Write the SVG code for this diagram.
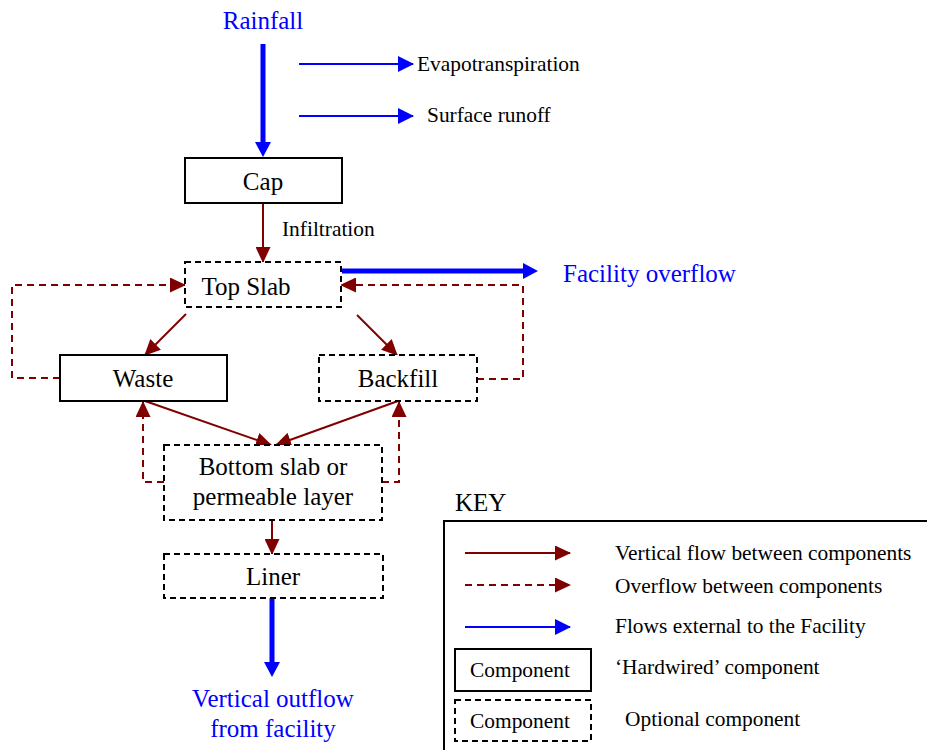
<svg xmlns="http://www.w3.org/2000/svg" width="927" height="750" viewBox="0 0 927 750">
<style>
text{font-family:"Liberation Serif","Times New Roman",serif;}
.big{font-size:25px;}
.sm{font-size:21.4px;}
.blue{fill:#0000ff;}
.c{text-anchor:middle;}
.box{fill:#fff;stroke:#000;stroke-width:2;}
.dbox{fill:#fff;stroke:#000;stroke-width:2;stroke-dasharray:6,4;}
.r{fill:none;stroke:#800000;stroke-width:2;marker-end:url(#mR);}
.rd{fill:none;stroke:#800000;stroke-width:2;stroke-dasharray:7,5;marker-end:url(#mR);}
.b{fill:none;stroke:#0000ff;stroke-width:2;marker-end:url(#mB);}
.bt{fill:none;stroke:#0000ff;stroke-width:5;marker-end:url(#mBt);}
</style>
<defs>
<marker id="mR" markerUnits="userSpaceOnUse" markerWidth="17" markerHeight="15" refX="15" refY="7.5" orient="auto"><path d="M0,0 L16,7.5 L0,15 z" fill="#800000"/></marker>
<marker id="mB" markerUnits="userSpaceOnUse" markerWidth="17" markerHeight="16" refX="15" refY="8" orient="auto"><path d="M0,0 L16,8 L0,16 z" fill="#0000ff"/></marker>
<marker id="mBt" markerUnits="userSpaceOnUse" markerWidth="17" markerHeight="16" refX="0" refY="8" orient="auto"><path d="M0,0 L15,8 L0,16 z" fill="#0000ff"/></marker>
</defs>
<rect width="927" height="750" fill="#fff"/>

<g id="connectors">
<path class="bt" d="M263,44 V142"/>
<path class="b" d="M299,64 H413"/>
<path class="b" d="M299,116 H413"/>
<path class="r" d="M263,203 V262"/>
<path class="bt" d="M342,271 H523"/>
<path class="rd" d="M60,378 H12 V285 H185"/>
<path class="rd" d="M477,379 H523 V285 H341"/>
<path class="r" d="M186,314 L145,355"/>
<path class="r" d="M357,315 L397,355"/>
<path class="r" d="M145,401 L271,445"/>
<path class="r" d="M398,401 L276,445"/>
<path class="rd" d="M164,482 H143 V402"/>
<path class="rd" d="M382,482 H399 V402"/>
<path class="r" d="M272,520 V554"/>
<path class="bt" d="M272,598 V662"/>
</g>

<g id="rainfall"><text class="big blue c" x="263" y="29">Rainfall</text></g>
<g id="evapotranspiration"><text class="sm" x="417" y="71">Evapotranspiration</text></g>
<g id="surface-runoff"><text class="sm" x="427" y="122">Surface runoff</text></g>
<g id="infiltration"><text class="sm" x="282" y="236">Infiltration</text></g>
<g id="facility-overflow"><text class="big blue" x="563" y="282">Facility overflow</text></g>

<g id="cap"><rect class="box" x="185" y="158" width="157" height="45"/><text class="big c" x="263" y="190">Cap</text></g>
<g id="top-slab"><rect class="dbox" x="185" y="262" width="156" height="45"/><text class="big c" x="246" y="295">Top Slab</text></g>
<g id="waste"><rect class="box" x="60" y="355" width="167" height="46"/><text class="big c" x="143" y="387">Waste</text></g>
<g id="backfill"><rect class="dbox" x="319" y="355" width="158" height="46"/><text class="big c" x="398" y="387">Backfill</text></g>
<g id="bottom-slab"><rect class="dbox" x="164" y="445" width="218" height="75"/><text class="big c" x="273" y="475">Bottom slab or</text><text class="big c" x="273" y="505">permeable layer</text></g>
<g id="liner"><rect class="dbox" x="164" y="554" width="219" height="44"/><text class="big c" x="273" y="585">Liner</text></g>
<g id="vertical-outflow"><text class="big blue c" x="273" y="707">Vertical outflow</text><text class="big blue c" x="273" y="737">from facility</text></g>

<g id="key">
<text class="big" x="455" y="511">KEY</text>
<rect x="444" y="521" width="500" height="250" fill="none" stroke="#000" stroke-width="2"/>
<path class="r" d="M465,553 H570"/>
<text class="sm" x="615" y="560">Vertical flow between components</text>
<path class="rd" d="M465,585 H570"/>
<text class="sm" x="615" y="593">Overflow between components</text>
<path class="b" d="M465,627 H570"/>
<text class="sm" x="615" y="633">Flows external to the Facility</text>
<rect class="box" x="455" y="649" width="136" height="42"/>
<text class="sm c" x="520" y="677">Component</text>
<text class="sm" x="615" y="674">‘Hardwired’ component</text>
<rect class="dbox" x="455" y="700" width="136" height="41"/>
<text class="sm c" x="520" y="728">Component</text>
<text class="sm" x="625" y="726">Optional component</text>
</g>
</svg>
